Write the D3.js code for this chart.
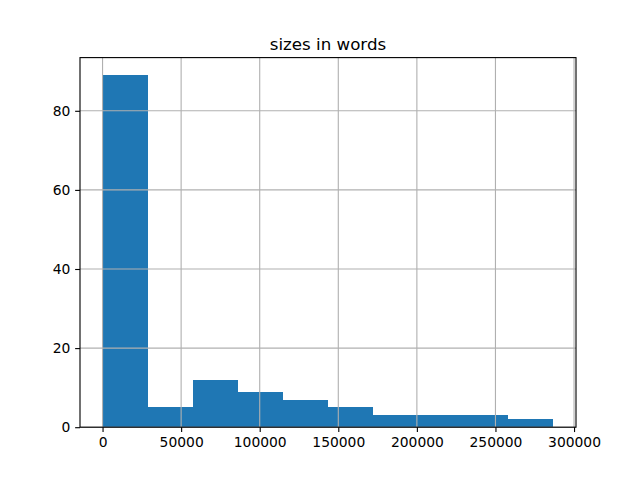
<!DOCTYPE html>
<html><head><meta charset="utf-8">
<script src="https://cdn.jsdelivr.net/npm/d3@7"></script>
<style>body{margin:0;background:#fff}svg{display:block}text{font-family:"DejaVu Sans",sans-serif}</style>
</head><body>
<script>
const title = "sizes in words";
const binStart = 0;
const binEnd = 286900;
const counts = [89, 5, 12, 9, 7, 5, 3, 3, 3, 2];
const xTicks = [0, 50000, 100000, 150000, 200000, 250000, 300000];
const yTicks = [0, 20, 40, 60, 80];

const W = 640, H = 480;
const L = 80, R = 576, T = 57.6, B = 427.2;
const n = counts.length;
const bw = (binEnd - binStart) / n;
const bins = counts.map((c, i) => ({x0: binStart + i * bw, x1: binStart + (i + 1) * bw, c}));
const span = binEnd - binStart;
const x = d3.scaleLinear().domain([binStart - span * 0.05, binEnd + span * 0.05]).range([L, R]);
const yMax = d3.max(counts) * 1.05;
const y = d3.scaleLinear().domain([0, yMax]).range([B, T]);

const svg = d3.select("body").append("svg").attr("width", W).attr("height", H);
svg.append("rect").attr("width", W).attr("height", H).attr("fill", "#fff");

svg.append("g").selectAll("rect").data(bins).join("rect")
  .attr("x", d => x(d.x0)).attr("width", d => x(d.x1) - x(d.x0))
  .attr("y", d => y(d.c)).attr("height", d => y(0) - y(d.c))
  .attr("fill", "#1f77b4").attr("shape-rendering", "crispEdges");

// grid
const g = svg.append("g").attr("stroke", "#b0b0b0").attr("stroke-width", 0.8 * 100 / 72);
xTicks.forEach(t => g.append("line").attr("x1", x(t)).attr("x2", x(t)).attr("y1", T).attr("y2", B));
yTicks.forEach(t => g.append("line").attr("x1", L).attr("x2", R).attr("y1", y(t)).attr("y2", y(t)));

const tickLen = 3.5 * 100 / 72, lw = 0.8 * 100 / 72, fs = 10 * 100 / 72;
const xAxis = d3.axisBottom(x).tickValues(xTicks).tickFormat(d3.format("d")).tickSize(tickLen).tickPadding(tickLen);
const yAxis = d3.axisLeft(y).tickValues(yTicks).tickFormat(d3.format("d")).tickSize(tickLen).tickPadding(tickLen);
const gx = svg.append("g").attr("transform", `translate(0,${B})`).call(xAxis);
const gy = svg.append("g").attr("transform", `translate(${L},0)`).call(yAxis);
[gx, gy].forEach(a => {
  a.select(".domain").remove();
  a.selectAll(".tick line").attr("stroke", "#000").attr("stroke-width", lw);
  a.selectAll(".tick text").attr("fill", "#000").style("font-size", fs + "px").style("font-family", "DejaVu Sans");
});

// spines
svg.append("rect").attr("x", L).attr("y", T).attr("width", R - L).attr("height", B - T)
  .attr("fill", "none").attr("stroke", "#000").attr("stroke-width", lw);

svg.append("text").attr("x", (L + R) / 2).attr("y", 49.5).attr("text-anchor", "middle")
  .style("font-size", (12 * 100 / 72) + "px").attr("fill", "#000").text(title);
</script>
</body></html>
